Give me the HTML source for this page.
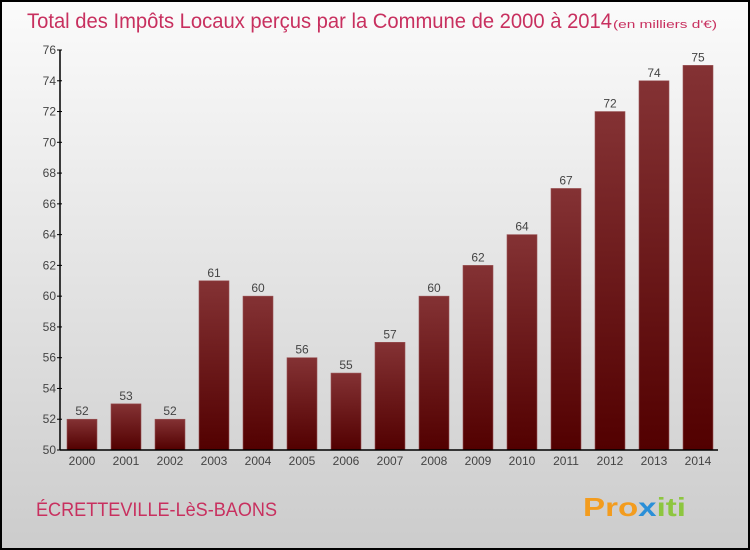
<!DOCTYPE html>
<html><head><meta charset="utf-8"><style>
body{margin:0;width:750px;height:550px;overflow:hidden}
svg{display:block;font-family:"Liberation Sans",sans-serif}
</style></head><body>
<svg width="750" height="550">
<defs>
<linearGradient id="bg" x1="0" y1="0" x2="0" y2="1"><stop offset="0" stop-color="#fbfbfb"/><stop offset="1" stop-color="#cccccc"/></linearGradient>
<linearGradient id="bar" x1="0" y1="0" x2="0" y2="1"><stop offset="0" stop-color="#843234"/><stop offset="1" stop-color="#520000"/></linearGradient>
</defs>
<rect x="1" y="1" width="748" height="548" fill="url(#bg)" stroke="#000" stroke-width="2"/>
<text x="27" y="28" font-size="21" fill="#c8305f" textLength="585" lengthAdjust="spacingAndGlyphs">Total des Impôts Locaux perçus par la Commune de 2000 à 2014</text>
<text x="613" y="28" font-size="11" fill="#c8305f" textLength="104" lengthAdjust="spacingAndGlyphs">(en milliers d'€)</text>
<g id="plot"></g>
<text x="36" y="516" font-size="19" fill="#c8305f" textLength="241" lengthAdjust="spacingAndGlyphs">ÉCRETTEVILLE-LèS-BAONS</text>
<text x="583" y="516" font-size="26" font-weight="bold" fill="#f39c1e" textLength="103" lengthAdjust="spacingAndGlyphs">Pro<tspan fill="#2a8fd8">x</tspan><tspan fill="#8dc63f">iti</tspan></text>
</svg>
<script>
const years=["2000","2001","2002","2003","2004","2005","2006","2007","2008","2009","2010","2011","2012","2013","2014"];
const values=[52,53,52,61,60,56,55,57,60,62,64,67,72,74,75];
const yTicks=[50,52,54,56,58,60,62,64,66,68,70,72,74,76];
const NS="http://www.w3.org/2000/svg";
const g=document.getElementById('plot');
const y0=450,y1=50,vMin=50,vMax=76;
const yS=v=>y0-(v-vMin)/(vMax-vMin)*(y0-y1);
const xS=i=>82+i*44;
function mk(t,a){const e=document.createElementNS(NS,t);for(const k in a)e.setAttribute(k,a[k]);g.appendChild(e);return e;}
values.forEach((v,i)=>{
 const r=mk('rect',{x:xS(i)-15,y:yS(v),width:30,height:y0-yS(v),fill:'url(#bar)',stroke:'#9a5456','stroke-width':0.6});
 
 
 const t=mk('text',{x:xS(i),y:yS(v)-4,'text-anchor':'middle','font-size':12,fill:'#444'});t.textContent=v;
 
 
 const xl=mk('text',{x:xS(i),y:465,'text-anchor':'middle','font-size':12,fill:'#444'});xl.textContent=years[i];
 
 
});
yTicks.forEach(v=>{
 mk('line',{x1:57,x2:62,y1:yS(v),y2:yS(v),stroke:'#000'});
 const t=mk('text',{x:56,y:yS(v)+4,'text-anchor':'end','font-size':12,fill:'#444'});t.textContent=v;
 
 
});
const ya=mk('line',{x1:60,x2:60,y1:y1,y2:y0,stroke:'#000','stroke-width':1.5});


const xa=mk('line',{x1:60,x2:718,y1:y0,y2:y0,stroke:'#000','stroke-width':1.5});


</script>
</body></html>
